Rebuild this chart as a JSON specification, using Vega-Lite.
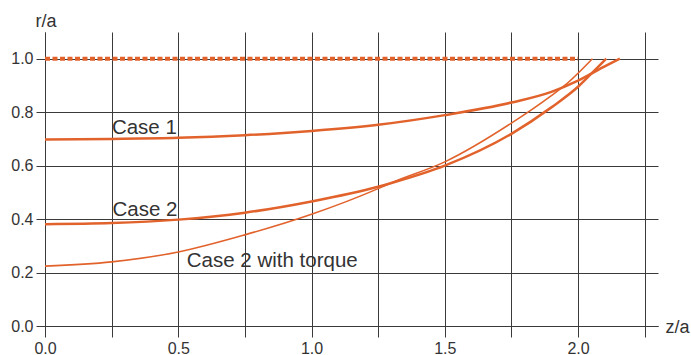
{
  "$schema": "https://vega.github.io/schema/vega-lite/v6.json",
  "width": 613,
  "height": 294,
  "autosize": {"type": "none"},
  "padding": {"left": 45, "top": 32, "right": 33, "bottom": 29},
  "background": "white",
  "config": {
    "view": {"stroke": null},
    "font": "Liberation Sans",
    "axis": {
      "gridColor": "#3a3a3a",
      "gridOpacity": 1,
      "gridWidth": 1,
      "domainColor": "#3a3a3a",
      "domainWidth": 1,
      "tickColor": "#3a3a3a",
      "tickWidth": 1,
      "labelFont": "Liberation Sans",
      "labelFontSize": 16,
      "labelColor": "#333333",
      "titleFont": "Liberation Sans",
      "titleFontSize": 18,
      "titleFontWeight": "normal",
      "titleColor": "#333333"
    }
  },
  "datasets": {
    "curves": [
      {"series": "Case 1", "x": 0, "y": 0.698},
      {"series": "Case 1", "x": 0.25, "y": 0.700},
      {"series": "Case 1", "x": 0.5, "y": 0.704},
      {"series": "Case 1", "x": 0.75, "y": 0.714},
      {"series": "Case 1", "x": 1.0, "y": 0.730},
      {"series": "Case 1", "x": 1.25, "y": 0.753},
      {"series": "Case 1", "x": 1.5, "y": 0.789},
      {"series": "Case 1", "x": 1.75, "y": 0.836},
      {"series": "Case 1", "x": 1.9, "y": 0.876},
      {"series": "Case 1", "x": 2.0, "y": 0.918},
      {"series": "Case 1", "x": 2.1, "y": 0.971},
      {"series": "Case 1", "x": 2.157, "y": 1.0},
      {"series": "Case 2", "x": 0, "y": 0.381},
      {"series": "Case 2", "x": 0.25, "y": 0.385},
      {"series": "Case 2", "x": 0.5, "y": 0.398},
      {"series": "Case 2", "x": 0.75, "y": 0.424},
      {"series": "Case 2", "x": 1.0, "y": 0.466},
      {"series": "Case 2", "x": 1.25, "y": 0.521},
      {"series": "Case 2", "x": 1.3, "y": 0.535},
      {"series": "Case 2", "x": 1.5, "y": 0.600},
      {"series": "Case 2", "x": 1.75, "y": 0.719},
      {"series": "Case 2", "x": 1.9, "y": 0.818},
      {"series": "Case 2", "x": 2.0, "y": 0.895},
      {"series": "Case 2", "x": 2.05, "y": 0.944},
      {"series": "Case 2", "x": 2.106, "y": 1.0},
      {"series": "Case 2 with torque", "x": 0, "y": 0.224},
      {"series": "Case 2 with torque", "x": 0.25, "y": 0.240},
      {"series": "Case 2 with torque", "x": 0.5, "y": 0.277},
      {"series": "Case 2 with torque", "x": 0.75, "y": 0.341},
      {"series": "Case 2 with torque", "x": 1.0, "y": 0.418},
      {"series": "Case 2 with torque", "x": 1.25, "y": 0.514},
      {"series": "Case 2 with torque", "x": 1.3, "y": 0.536},
      {"series": "Case 2 with torque", "x": 1.5, "y": 0.614},
      {"series": "Case 2 with torque", "x": 1.75, "y": 0.759},
      {"series": "Case 2 with torque", "x": 1.9, "y": 0.862},
      {"series": "Case 2 with torque", "x": 1.95, "y": 0.9},
      {"series": "Case 2 with torque", "x": 2.054, "y": 1.0}
    ],
    "limit": [
      {"x": 0, "y": 1.0},
      {"x": 2.0, "y": 1.0}
    ],
    "labels": [
      {"text": "Case 1", "x": 0.251, "y": 0.718},
      {"text": "Case 2", "x": 0.253, "y": 0.412},
      {"text": "Case 2 with torque", "x": 0.532, "y": 0.22}
    ]
  },
  "layer": [
    {
      "data": {"name": "limit"},
      "mark": {"type": "rule", "strokeWidth": 0, "opacity": 0},
      "encoding": {
        "x": {
          "field": "x", "type": "quantitative",
          "scale": {"domain": [0, 2.3], "nice": false, "zero": false},
          "axis": {
            "values": [0, 0.25, 0.5, 0.75, 1.0, 1.25, 1.5, 1.75, 2.0, 2.25],
            "grid": true,
            "tickSize": 11,
            "labelPadding": 3,
            "labelExpr": "(datum.value * 2) % 1 == 0 ? format(datum.value, '.1f') : ''",
            "labelFlush": false,
            "labelOverlap": false,
            "title": "z/a",
            "titleAngle": 0,
            "titleAlign": "left",
            "titleBaseline": "alphabetic",
            "titleX": 620,
            "titleY": 6,
            "titleAnchor": null
          }
        },
        "y": {
          "field": "y", "type": "quantitative",
          "scale": {"domain": [0, 1.1], "nice": false, "zero": false},
          "axis": {
            "values": [0, 0.1, 0.2, 0.3, 0.4, 0.5, 0.6, 0.7, 0.8, 0.9, 1.0],
            "grid": true,
            "tickSize": 9,
            "labelPadding": 3,
            "labelExpr": "round(datum.value * 10) % 2 == 0 ? format(datum.value, '.1f') : ''",
            "labelFlush": false,
            "labelOverlap": false,
            "title": "r/a",
            "titleAngle": 0,
            "titleAlign": "left",
            "titleBaseline": "alphabetic",
            "titleX": -10,
            "titleY": -6,
            "titleAnchor": null
          }
        }
      }
    },
    {
      "data": {"name": "limit"},
      "mark": {"type": "line", "color": "#E2622C", "strokeWidth": 4, "strokeDash": [5, 2.5], "strokeCap": "butt"},
      "encoding": {
        "x": {"field": "x", "type": "quantitative"},
        "y": {"field": "y", "type": "quantitative"}
      }
    },
    {
      "data": {"name": "curves"},
      "transform": [{"filter": "datum.series == 'Case 1'"}],
      "mark": {"type": "line", "color": "#E2622C", "strokeWidth": 2.5, "interpolate": "monotone"},
      "encoding": {
        "x": {"field": "x", "type": "quantitative"},
        "y": {"field": "y", "type": "quantitative"}
      }
    },
    {
      "data": {"name": "curves"},
      "transform": [{"filter": "datum.series == 'Case 2'"}],
      "mark": {"type": "line", "color": "#E2622C", "strokeWidth": 2.5, "interpolate": "monotone"},
      "encoding": {
        "x": {"field": "x", "type": "quantitative"},
        "y": {"field": "y", "type": "quantitative"}
      }
    },
    {
      "data": {"name": "curves"},
      "transform": [{"filter": "datum.series == 'Case 2 with torque'"}],
      "mark": {"type": "line", "color": "#E2622C", "strokeWidth": 1.6, "interpolate": "monotone"},
      "encoding": {
        "x": {"field": "x", "type": "quantitative"},
        "y": {"field": "y", "type": "quantitative"}
      }
    },
    {
      "data": {"name": "labels"},
      "mark": {"type": "text", "align": "left", "baseline": "alphabetic", "fontSize": 20.5, "color": "#333333", "font": "Liberation Sans"},
      "encoding": {
        "x": {"field": "x", "type": "quantitative"},
        "y": {"field": "y", "type": "quantitative"},
        "text": {"field": "text"}
      }
    }
  ]
}
